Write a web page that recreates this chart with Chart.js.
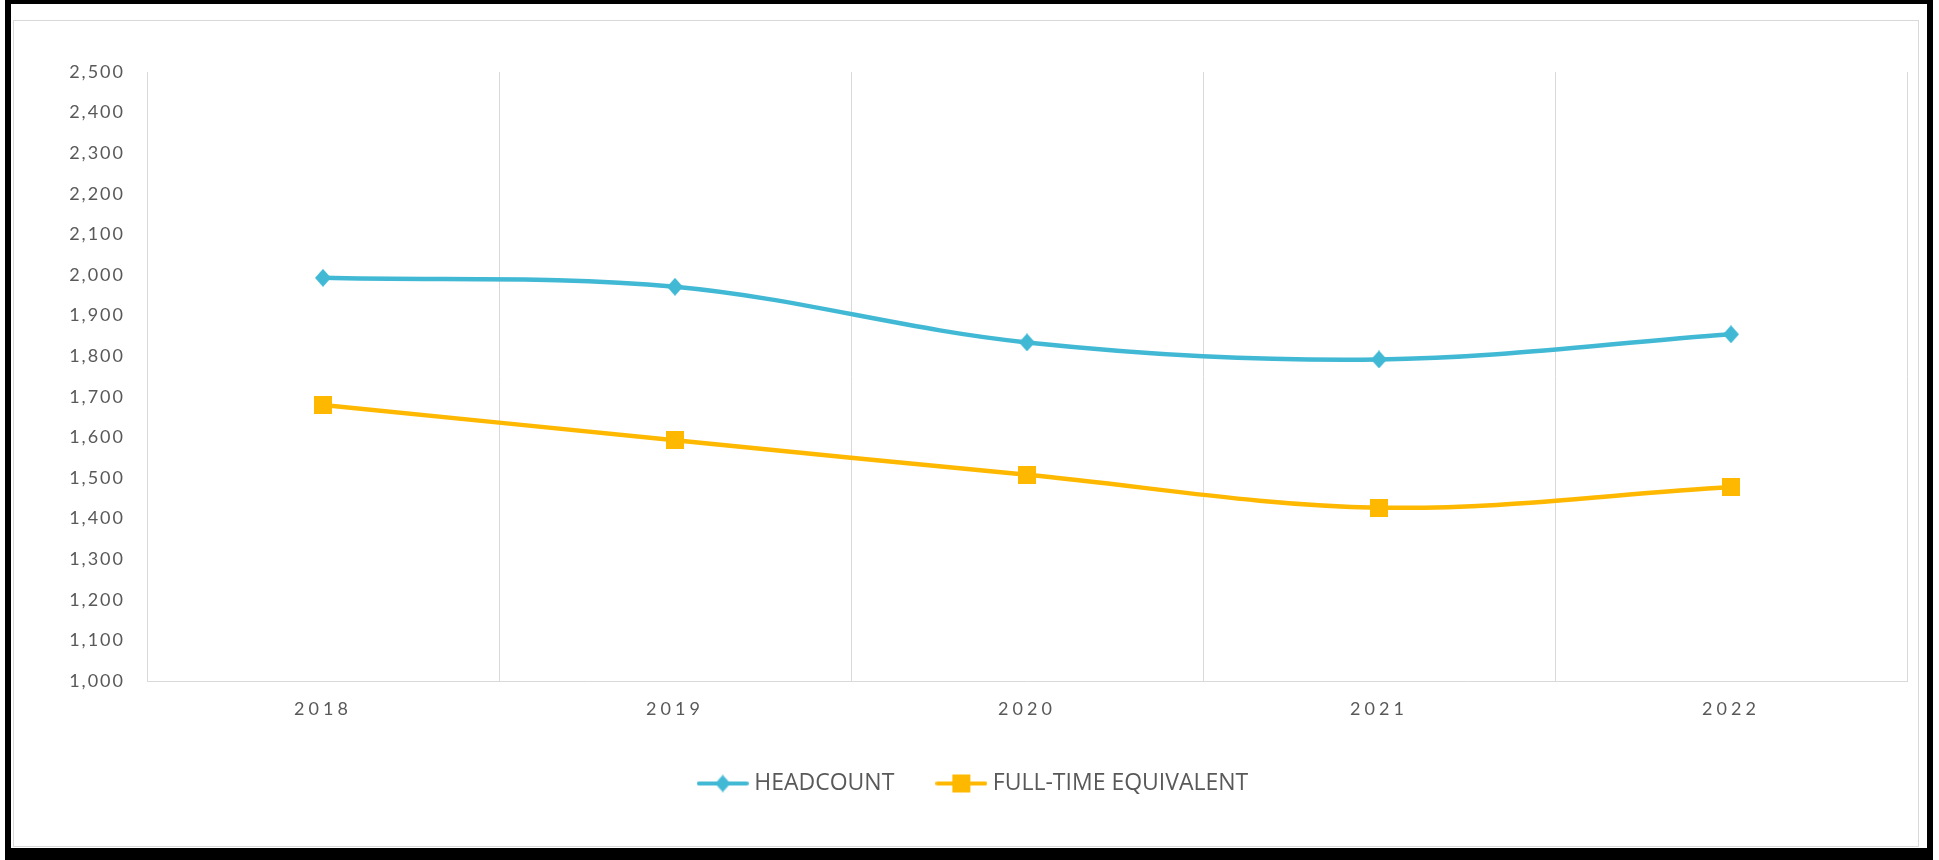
<!DOCTYPE html>
<html>
<head>
<meta charset="utf-8">
<script src="https://cdn.jsdelivr.net/npm/chart.js@4.4.1/dist/chart.umd.min.js"></script>
<style>
  html, body { margin: 0; padding: 0; background: #fff; width: 1939px; height: 860px; overflow: hidden; }
  #frame { position: absolute; left: 5px; top: 0; width: 1916px; height: 844px;
           border-style: solid; border-color: #000; border-width: 4px 6px 12px 6px; }
  #panel { position: absolute; left: 13px; top: 20px; width: 1904px; height: 825px; border: 1px solid #d9d9d9; }
  #chart { position: absolute; left: 0; top: 0; }
</style>
</head>
<body>
<div id="frame"></div>
<div id="panel"></div>
<canvas id="chart" width="1939" height="860"></canvas>
<script>
// data
const years = ["2018", "2019", "2020", "2021", "2022"];
const headcount = [1993, 1971, 1834, 1792, 1854];
const fullTimeEquivalent = [1680, 1593, 1508, 1427, 1478];
const yMin = 1000;
const yMax = 2500;
const yStep = 100;

const tealColor = "#41B9D5";
const goldColor = "#FFB800";
const textColor = "#595959";
const gridColor = "#D9D9D9";

// marker shapes drawn once to small canvases
function makeDiamond(color) {
    const c = document.createElement("canvas");
    c.width = 16; c.height = 18;
    const g = c.getContext("2d");
    g.fillStyle = color;
    g.beginPath();
    g.moveTo(8, 0); g.lineTo(16, 9); g.lineTo(8, 18); g.lineTo(0, 9);
    g.closePath();
    g.fill();
    return c;
}

function makeSquare(color) {
    const c = document.createElement("canvas");
    c.width = 18; c.height = 18;
    const g = c.getContext("2d");
    g.fillStyle = color;
    g.fillRect(0, 0, 18, 18);
    return c;
}

// legend swatch: short line with the marker in the middle
function makeSwatch(color, marker) {
    const c = document.createElement("canvas");
    c.width = 52; c.height = 20;
    const g = c.getContext("2d");
    g.strokeStyle = color;
    g.lineWidth = 4;
    g.lineCap = "round";
    g.beginPath();
    g.moveTo(2, 10); g.lineTo(50, 10);
    g.stroke();
    const mw = marker.width * 0.95, mh = marker.height * 0.95;
    g.drawImage(marker, 26 - mw / 2, 10 - mh / 2, mw, mh);
    return c;
}

const diamond = makeDiamond(tealColor);
const square = makeSquare(goldColor);
const swatches = [makeSwatch(tealColor, diamond), makeSwatch(goldColor, square)];

// tick labels are letter-spaced in the original
function spaceLabels(scale, spacing) {
    if (scale._spaced) return;
    const orig = scale.drawLabels;
    scale.drawLabels = function (area) {
        const c = this.ctx;
        c.save();
        c.letterSpacing = spacing;
        orig.call(this, area);
        c.restore();
    };
    scale._spaced = true;
}

const tweaks = {
    id: "tweaks",
    afterLayout(chart) {
        spaceLabels(chart.scales.x, "4px");
        spaceLabels(chart.scales.y, "2px");
        // nudge legend to sit where the original has it
        const lg = chart.legend;
        lg.left += 12; lg.right += 12;
        lg.top += 1; lg.bottom += 1;
    }
};

const ctx = document.getElementById("chart").getContext("2d");

new Chart(ctx, {
    type: "line",
    data: {
        labels: years,
        datasets: [
            {
                label: "HEADCOUNT",
                data: headcount,
                borderColor: tealColor,
                backgroundColor: tealColor,
                borderWidth: 4.5,
                tension: 0.35,
                pointStyle: diamond,
            },
            {
                label: "FULL-TIME EQUIVALENT",
                data: fullTimeEquivalent,
                borderColor: goldColor,
                backgroundColor: goldColor,
                borderWidth: 4.5,
                tension: 0.35,
                pointStyle: square,
            },
        ],
    },
    options: {
        responsive: false,
        animation: false,
        layout: {
            padding: { left: 20, right: 32, top: 72, bottom: 56 },
        },
        scales: {
            x: {
                offset: true,
                grid: { offset: true, color: gridColor, drawTicks: false },
                border: { color: gridColor },
                ticks: {
                    padding: 17,
                    color: textColor,
                    font: { family: "Lato", size: 18 },
                },
                afterFit(scale) { scale.height = 43; },
            },
            y: {
                min: yMin,
                max: yMax,
                grid: { display: false, drawTicks: false },
                border: { display: true, color: gridColor },
                ticks: {
                    stepSize: yStep,
                    padding: 22,
                    color: textColor,
                    font: { family: "Lato", size: 18 },
                },
                afterFit(scale) { scale.width = 127; },
            },
        },
        plugins: {
            tooltip: { enabled: false },
            legend: {
                position: "bottom",
                labels: {
                    usePointStyle: true,
                    pointStyleWidth: 40,
                    padding: 47,
                    color: textColor,
                    font: { family: "Open Sans", size: 23 },
                    generateLabels(chart) {
                        return chart.data.datasets.map((ds, i) => ({
                            text: ds.label,
                            pointStyle: swatches[i],
                            fillStyle: ds.borderColor,
                            strokeStyle: ds.borderColor,
                            lineWidth: 0,
                            fontColor: textColor,
                            hidden: false,
                            datasetIndex: i,
                        }));
                    },
                },
            },
        },
    },
    plugins: [tweaks],
});
</script>
</body>
</html>
